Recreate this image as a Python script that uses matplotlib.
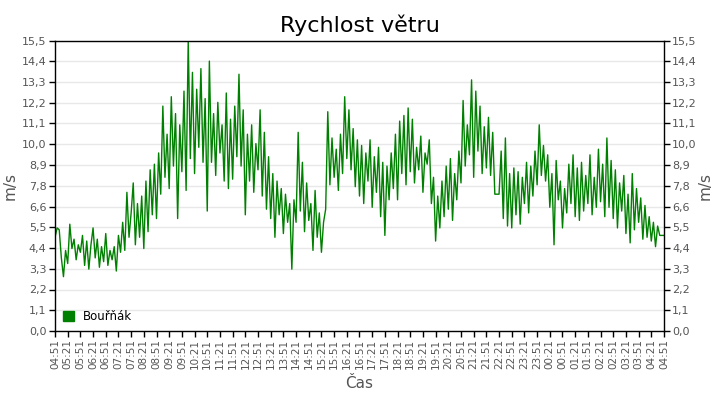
import matplotlib.pyplot as plt
import numpy as np

# wind speed samples every 5 minutes, starting 04:51 (m/s)
speed = [
    5.0, 5.5, 5.4, 3.9, 2.9, 4.3, 3.6, 5.7, 4.4, 4.9, 3.8, 4.6,
    4.2, 5.1, 3.5, 4.8, 3.3, 4.6, 5.5, 3.9, 4.9, 3.4, 4.5, 3.7,
    5.2, 3.5, 4.3, 3.8, 4.5, 3.2, 5.1, 4.2, 5.8, 4.3, 7.4, 5.0,
    6.3, 7.9, 4.6, 6.8, 5.0, 7.2, 4.4, 8.0, 5.3, 8.6, 6.2, 8.9,
    6.0, 9.5, 7.3, 12.0, 8.2, 10.5, 7.6, 12.5, 8.8, 11.6, 6.0, 11.0,
    8.5, 12.8, 7.5, 15.5, 9.2, 13.8, 8.4, 12.9, 9.8, 14.0, 9.0, 12.4,
    6.4, 14.4, 9.0, 11.6, 8.3, 12.2, 9.5, 11.0, 8.0, 12.7, 7.6, 11.3,
    8.1, 12.0, 9.3, 13.7, 8.8, 11.8, 6.2, 10.5, 8.0, 11.0, 7.4, 10.0,
    8.6, 11.8, 7.2, 10.6, 6.5, 9.3, 6.0, 8.4, 5.0, 8.0, 6.2, 7.6,
    5.2, 7.3, 5.8, 6.8, 3.3, 7.0, 5.8, 10.6, 6.4, 9.0, 5.3, 7.9,
    5.9, 6.8, 4.3, 7.5, 5.0, 6.3, 4.2, 5.8, 6.5, 11.7, 7.8, 10.3,
    8.2, 9.7, 7.5, 10.5, 8.4, 12.5, 9.2, 11.8, 8.6, 10.8, 7.7, 10.2,
    7.2, 9.9, 6.8, 9.5, 8.0, 10.2, 6.6, 9.3, 7.4, 9.8, 6.1, 9.0,
    5.1, 8.8, 7.0, 9.5, 7.6, 10.5, 7.0, 11.2, 8.4, 11.5, 7.8, 11.9,
    8.5, 11.3, 7.9, 9.8, 8.6, 10.4, 7.4, 9.5, 8.9, 10.2, 6.8, 8.2,
    4.8, 7.2, 5.5, 8.0, 6.1, 8.8, 6.5, 9.2, 5.9, 8.4, 7.0, 9.6,
    7.9, 12.3, 8.8, 11.0, 9.4, 13.4, 8.2, 12.8, 9.6, 12.0, 8.4, 10.9,
    8.7, 11.4, 8.3, 10.6, 7.3, 7.3, 7.3, 9.6, 6.0, 10.3, 5.6, 8.4,
    5.5, 8.7, 6.2, 8.5, 5.7, 8.2, 6.8, 9.0, 6.3, 8.8, 7.2, 9.6,
    7.8, 11.0, 8.3, 9.9, 8.0, 9.4, 6.6, 8.4, 4.6, 9.1, 7.0, 8.0,
    5.5, 7.6, 6.3, 8.9, 6.8, 9.4, 6.1, 8.7, 5.9, 9.0, 6.4, 8.3,
    6.8, 9.4, 6.2, 8.2, 6.6, 9.7, 6.9, 8.9, 6.1, 10.3, 6.6, 9.1,
    6.0, 8.6, 5.5, 7.9, 6.4, 8.3, 5.2, 7.3, 4.7, 8.4, 5.4, 7.6,
    5.8, 7.1, 4.9, 6.7, 5.0, 6.1, 4.8, 5.8, 4.5, 5.6, 5.1, 5.1,
    5.1,
]
minutes = [5 * i for i in range(len(speed))]

start_h, start_m = 4, 51
tick_minutes = list(range(0, 1441, 30))
tick_labels = []
for t in tick_minutes:
    total = (start_h * 60 + start_m + t) % 1440
    tick_labels.append(f"{total // 60:02d}:{total % 60:02d}")

y_ticks = np.linspace(0, 15.5, 15)
y_labels = [f"{v:.1f}".replace(".", ",") for v in y_ticks]

gray = "#555555"

fig = plt.figure(figsize=(7.2, 4), dpi=100)
ax = fig.add_axes([0.0764, 0.1725, 0.8458, 0.72625])

ax.plot(minutes, speed, color="#008000", lw=1.0, label="Bouřňák")

ax.set_xlim(0, 1440)
ax.set_ylim(0, 15.5)
ax.set_yticks(y_ticks)
ax.set_yticklabels(y_labels)
ax.set_xticks(tick_minutes)
ax.set_xticklabels(tick_labels, rotation=90)
ax.grid(axis="y", color="#e8e8e8", lw=1)
ax.set_axisbelow(True)

ax.tick_params(axis="both", direction="out", length=4, width=1,
               labelsize=8, colors="black", labelcolor=gray, pad=2)
ax.tick_params(axis="x", labelsize=7.5)
ax.tick_params(axis="y", right=True, labelright=True)
for s in ax.spines.values():
    s.set_color("black")
    s.set_linewidth(1)

ax.set_title("Rychlost větru", fontsize=16, color="black", pad=6)
ax.set_xlabel("Čas", fontsize=11, color=gray, labelpad=5)
ax.set_ylabel("m/s", fontsize=11, color=gray)
ax.yaxis.set_label_coords(-0.061, 0.5)

# right-hand axis title
ax.text(1.067, 0.5, "m/s", transform=ax.transAxes, rotation=90,
        fontsize=11, color=gray, ha="center", va="center")

ax.legend(loc="lower left", frameon=False, fontsize=8.5, handlelength=0.9,
          handleheight=0.9, borderaxespad=0.3,
          handles=[plt.Rectangle((0, 0), 1, 1, color="#008000")],
          labels=["Bouřňák"], labelcolor="black")

fig.savefig("out.png", dpi=100)
